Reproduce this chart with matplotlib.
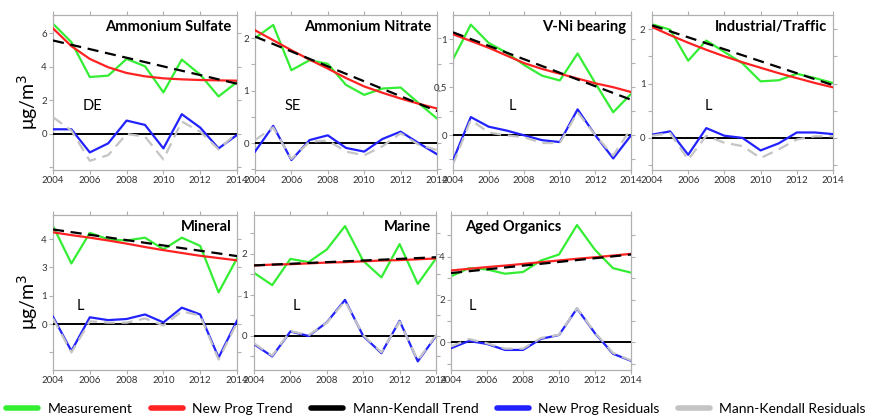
import matplotlib
matplotlib.use("Agg")
import matplotlib.pyplot as plt
from matplotlib.lines import Line2D

plt.rcParams['font.family'] = ['Lato', 'DejaVu Sans']

years = list(range(2004, 2015))
mk_years = [2004, 2014]

# Ammonium Sulfate
sulf_meas = [6.58, 5.48, 3.40, 3.48, 4.48, 4.04, 2.48, 4.44, 3.54, 2.24, 3.10]
sulf_np = [6.30, 5.24, 4.48, 3.98, 3.64, 3.44, 3.32, 3.26, 3.22, 3.20, 3.18]
sulf_mk = [5.58, 3.00]
sulf_npres = [0.28, 0.28, -1.10, -0.56, 0.80, 0.54, -0.86, 1.18, 0.38, -0.86, -0.06]
sulf_mkres = [1.00, 0.20, -1.60, -1.26, 0.00, -0.16, -1.52, 0.74, 0.14, -0.92, 0.08]

# Ammonium Nitrate
nitr_meas = [2.00, 2.25, 1.39, 1.58, 1.51, 1.11, 0.92, 1.04, 1.06, 0.76, 0.47]
nitr_np = [2.15, 1.96, 1.77, 1.59, 1.42, 1.24, 1.08, 0.96, 0.85, 0.75, 0.66]
nitr_mk = [2.03, 0.61]
nitr_npres = [-0.16, 0.33, -0.32, 0.06, 0.15, -0.09, -0.16, 0.08, 0.22, 0.00, -0.21]
nitr_mkres = [0.06, 0.30, -0.30, 0.03, 0.05, -0.16, -0.23, -0.06, 0.19, -0.03, -0.13]

# V-Ni bearing
vni_meas = [0.79, 1.15, 0.96, 0.86, 0.73, 0.62, 0.57, 0.85, 0.54, 0.24, 0.43]
vni_np = [1.05, 0.98, 0.91, 0.83, 0.75, 0.69, 0.64, 0.59, 0.54, 0.50, 0.45]
vni_mk = [1.07, 0.37]
vni_npres = [-0.26, 0.19, 0.09, 0.05, 0.00, -0.05, -0.07, 0.27, 0.00, -0.24, 0.00]
vni_mkres = [-0.30, 0.16, 0.03, 0.00, -0.02, -0.08, -0.08, 0.24, 0.00, -0.21, 0.07]

# Industrial/Traffic
ind_meas = [2.09, 1.99, 1.42, 1.79, 1.58, 1.37, 1.04, 1.06, 1.18, 1.10, 1.01]
ind_np = [2.04, 1.89, 1.75, 1.62, 1.50, 1.39, 1.29, 1.19, 1.10, 1.01, 0.93]
ind_mk = [2.07, 0.97]
ind_npres = [0.06, 0.12, -0.31, 0.18, 0.04, 0.00, -0.23, -0.10, 0.10, 0.10, 0.07]
ind_mkres = [0.04, 0.09, -0.40, 0.04, -0.09, -0.15, -0.37, -0.21, -0.03, 0.03, 0.03]

# Mineral (upper part of its axis is offset by one unit)
min_meas = [4.46, 3.14, 4.22, 3.99, 3.95, 4.05, 3.64, 4.05, 3.76, 2.12, 3.32]
min_np = [4.24, 4.14, 4.05, 3.95, 3.84, 3.72, 3.61, 3.51, 3.41, 3.33, 3.25]
min_mk = [4.34, 3.40]
min_npres = [0.26, -0.95, 0.24, 0.14, 0.18, 0.34, 0.06, 0.58, 0.34, -1.18, 0.12]
min_mkres = [0.20, -1.00, 0.10, 0.05, 0.05, 0.20, -0.05, 0.45, 0.30, -1.25, 0.05]
min_shift = 1

# Marine
mar_meas = [1.54, 1.24, 1.88, 1.80, 2.11, 2.68, 1.83, 1.43, 2.24, 1.27, 1.89]
mar_np = [1.72, 1.74, 1.75, 1.77, 1.79, 1.80, 1.82, 1.84, 1.85, 1.87, 1.89]
mar_mk = [1.72, 1.92]
mar_npres = [-0.20, -0.50, 0.11, 0.00, 0.33, 0.88, 0.00, -0.42, 0.37, -0.62, 0.00]
mar_mkres = [-0.18, -0.48, 0.12, 0.02, 0.32, 0.85, 0.02, -0.40, 0.35, -0.60, 0.02]

# Aged Organics
org_meas = [3.09, 3.47, 3.41, 3.21, 3.29, 3.83, 4.11, 5.49, 4.33, 3.47, 3.26]
org_np = [3.36, 3.44, 3.52, 3.59, 3.67, 3.75, 3.83, 3.91, 3.98, 4.06, 4.14]
org_mk = [3.24, 4.11]
org_npres = [-0.28, 0.06, -0.08, -0.36, -0.36, 0.16, 0.34, 1.58, 0.42, -0.54, -0.87]
org_mkres = [-0.20, 0.15, -0.05, -0.30, -0.30, 0.20, 0.35, 1.60, 0.45, -0.50, -0.85]

titles = ["Ammonium Sulfate", "Ammonium Nitrate", "V-Ni bearing", "Industrial/Traffic",
          "Mineral", "Marine", "Aged Organics"]
tags = ["DE", "SE", "L", "L", "L", "L", "L"]

legend_labels = ["Measurement", "New Prog Trend", "Mann-Kendall Trend",
                 "New Prog Residuals", "Mann-Kendall Residuals"]

GREEN = "#33ee33"
RED = "#ff2222"
BLUE = "#2222ff"
GRAY = "#c4c4c4"
SPINE = "#b0b0b0"

panels = [
    dict(meas=sulf_meas, np_=sulf_np, mk=sulf_mk, npres=sulf_npres, mkres=sulf_mkres, shift=0,
         ylim=(-2.15, 7.1), yt=[-2, 0, 2, 4, 6], yl=["", "0", "2", "4", "6"],
         rect=(53, 15, 184), tag_xy=(0.16, 0.41), left_title=False),
    dict(meas=nitr_meas, np_=nitr_np, mk=nitr_mk, npres=nitr_npres, mkres=nitr_mkres, shift=0,
         ylim=(-0.51, 2.44), yt=[-0.5, 0, 0.5, 1, 1.5, 2], yl=["", "0", "", "1", "", "2"],
         rect=(255, 15, 182), tag_xy=(0.16, 0.41), left_title=False),
    dict(meas=vni_meas, np_=vni_np, mk=vni_mk, npres=vni_npres, mkres=vni_mkres, shift=0,
         ylim=(-0.36, 1.25), yt=[-0.25, 0, 0.25, 0.5, 0.75, 1], yl=["", "0", "", "0.5", "", "1"],
         rect=(453, 15, 178), tag_xy=(0.31, 0.41), left_title=False),
    dict(meas=ind_meas, np_=ind_np, mk=ind_mk, npres=ind_npres, mkres=ind_mkres, shift=0,
         ylim=(-0.59, 2.26), yt=[-0.5, 0, 0.5, 1, 1.5, 2], yl=["", "0", "", "1", "", "2"],
         rect=(652, 15, 181), tag_xy=(0.29, 0.41), left_title=False),
    dict(meas=min_meas, np_=min_np, mk=min_mk, npres=min_npres, mkres=min_mkres, shift=min_shift,
         ylim=(-1.62, 3.85), yt=[-1, 0, 1, 2, 3], yl=["", "0", "1", "3", "4"],
         rect=(53, 215, 184), tag_xy=(0.13, 0.41), left_title=False),
    dict(meas=mar_meas, np_=mar_np, mk=mar_mk, npres=mar_npres, mkres=mar_mkres, shift=0,
         ylim=(-0.83, 2.95), yt=[-0.5, 0, 0.5, 1, 1.5, 2, 2.5], yl=["", "0", "", "1", "", "2", ""],
         rect=(254, 215, 182), tag_xy=(0.21, 0.41), left_title=False),
    dict(meas=org_meas, np_=org_np, mk=org_mk, npres=org_npres, mkres=org_mkres, shift=0,
         ylim=(-1.3, 5.96), yt=[-1, 0, 1, 2, 3, 4, 5], yl=["", "0", "", "2", "", "4", ""],
         rect=(451, 215, 180), tag_xy=(0.10, 0.41), left_title=True),
]

W, H = 872, 420
fig = plt.figure(figsize=(W / 100, H / 100), dpi=100)

for p, title, tag in zip(panels, titles, tags):
    x0, top, w = p["rect"]
    ax = fig.add_axes([x0 / W, 1 - (top + 155) / H, w / W, 155 / H])
    s = p["shift"]
    ax.plot(years, [v - s for v in p["meas"]], color=GREEN, lw=1.6, zorder=2)
    ax.plot(years, [v - s for v in p["np_"]], color=RED, lw=1.6, zorder=3)
    ax.plot(mk_years, [v - s for v in p["mk"]], color="black", lw=1.6, ls=(0, (5, 3)), zorder=4)
    ax.axhline(0, color="black", lw=1.4, zorder=3)
    ax.plot(years, p["npres"], color=BLUE, lw=1.6, zorder=4)
    ax.plot(years, p["mkres"], color=GRAY, lw=1.6, ls=(0, (5, 3)), zorder=5)

    ax.set_xlim(2004, 2014)
    ax.set_ylim(*p["ylim"])
    ax.set_xticks(range(2004, 2015, 2))
    ax.set_yticks(p["yt"])
    ax.set_yticklabels(p["yl"])
    ax.tick_params(axis="both", which="both", direction="out", length=3, width=0.8,
                   color=SPINE, labelsize=7.0, labelcolor="#333333", pad=1.5,
                   top=True, right=True)
    for sp in ax.spines.values():
        sp.set_color(SPINE)
        sp.set_linewidth(0.9)

    if p["left_title"]:
        ax.text(0.08, 0.965, title, transform=ax.transAxes, ha="left", va="top",
                fontsize=10.6, fontweight="bold")
    else:
        ax.text(0.97, 0.965, title, transform=ax.transAxes, ha="right", va="top",
                fontsize=10.6, fontweight="bold")
    ax.text(p["tag_xy"][0], p["tag_xy"][1], tag, transform=ax.transAxes,
            ha="left", va="center", fontsize=10.5)

fig.text(28 / W, 1 - 102 / H, "μg/m$^3$", rotation=90, ha="center", va="center", fontsize=14)
fig.text(28 / W, 1 - 302 / H, "μg/m$^3$", rotation=90, ha="center", va="center", fontsize=14)

handles = [Line2D([], [], color=c, lw=4, solid_capstyle="round")
           for c in [GREEN, RED, "black", BLUE, GRAY]]
fig.legend(handles, legend_labels, loc="center", bbox_to_anchor=(0.5, 1 - 409 / H),
           ncol=5, frameon=False, fontsize=10, handlelength=2.3, handletextpad=0.7,
           columnspacing=1.3, borderaxespad=0, borderpad=0)

fig.savefig("out.png", dpi=100)
